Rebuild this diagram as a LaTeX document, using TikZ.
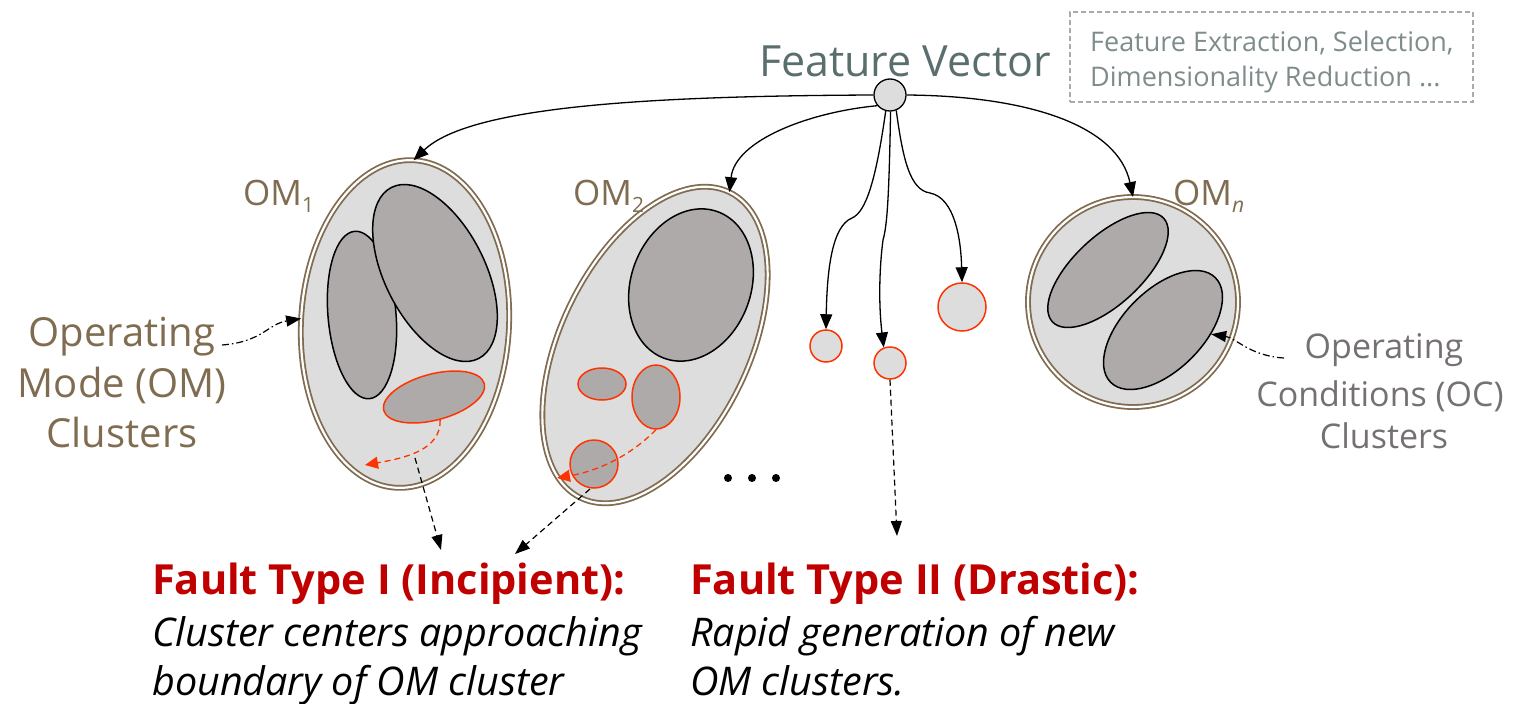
\documentclass[tikz,border=0pt]{standalone}
\usepackage{fontspec}
\setmainfont{Open Sans}
\usetikzlibrary{shapes.geometric,arrows.meta}

\definecolor{omb}{RGB}{128,108,80}
\definecolor{fvcol}{RGB}{91,110,110}
\definecolor{boxtxt}{RGB}{127,140,140}
\definecolor{boxline}{RGB}{170,170,170}
\definecolor{octxt}{RGB}{118,113,113}
\definecolor{lightg}{RGB}{221,221,221}
\definecolor{darkg}{RGB}{174,170,170}
\definecolor{redo}{RGB}{255,51,0}
\definecolor{faultred}{RGB}{192,0,0}

\newcommand{\fsz}[1]{\fontsize{#1}{#1}\selectfont}

\tikzset{
  ommode/.style={ellipse, draw=omb, double=white, double distance=2.2pt,
    line width=1.8pt, fill=lightg, inner sep=0pt, outer sep=0pt},
  occl/.style={ellipse, draw=black, line width=1.5pt, fill=darkg, inner sep=0pt},
  faultcl/.style={ellipse, draw=redo, line width=1.5pt, fill=darkg, inner sep=0pt},
  newcl/.style={circle, draw=redo, line width=1.5pt, fill=lightg, inner sep=0pt},
  link/.style={line width=1.3pt, -{Triangle[length=15pt,width=12pt]}},
  drift/.style={redo, line width=1.3pt, dash pattern=on 6pt off 4pt,
    -{Triangle[length=13pt,width=12pt]}},
  tofault/.style={line width=1.2pt, dash pattern=on 6pt off 4pt,
    -{Triangle[length=15pt,width=11pt]}},
  pointer/.style={line width=1.2pt, dash pattern=on 7pt off 3pt on 1.5pt off 3pt,
    -{Triangle[length=15pt,width=11pt]}},
  txt/.style={inner sep=0pt, anchor=base},
}

\begin{document}
\begin{tikzpicture}[x=1pt,y=-1pt]
\useasboundingbox (0,0) rectangle (1529,704);

% feature vector and its preprocessing note
\node[txt, text=fvcol, font=\fsz{43}] (fv) at (905,76) {Feature Vector};
\node[draw=boxline, line width=1.2pt, dash pattern=on 5pt off 3pt,
      minimum width=403pt, minimum height=90pt, inner sep=0pt] (prep) at (1271.5,57) {};
\node[txt, anchor=base west, text=boxtxt, font=\fsz{27}] (prep1) at (1090,51) {Feature Extraction, Selection,};
\node[txt, anchor=base west, text=boxtxt, font=\fsz{27}] (prep2) at (1090,86) {Dimensionality Reduction ...};
\node[circle, draw=black, line width=1.3pt, fill=lightg, minimum size=32pt, inner sep=0pt] (src) at (890,95) {};

% operating mode 1
\node[ommode, minimum width=208pt, minimum height=328pt, rotate=-3] (om1) at (405,324) {};
\node[occl, minimum width=68pt, minimum height=168pt, rotate=5] (om1a) at (362,315) {};
\node[occl, minimum width=100pt, minimum height=192pt, rotate=27] (om1b) at (435,273) {};
\node[faultcl, minimum width=104pt, minimum height=46pt, rotate=15] (om1f) at (434,397) {};
\node[txt, anchor=base west, text=omb, font=\fsz{35}] (om1lab) at (243,205) {OM\raisebox{-0.22em}{\fsz{21}1}};

% operating mode 2
\node[ommode, minimum width=188pt, minimum height=340pt, rotate=-26] (om2) at (655,345) {};
\node[occl, minimum width=120pt, minimum height=156pt, rotate=-20] (om2a) at (691,285) {};
\node[faultcl, minimum width=48pt, minimum height=32pt] (om2f1) at (602,384) {};
\node[faultcl, minimum width=48pt, minimum height=64pt] (om2f2) at (656,397) {};
\node[faultcl, minimum width=48pt, minimum height=48pt] (om2f3) at (594,464) {};
\node[txt, anchor=base west, text=omb, font=\fsz{35}] (om2lab) at (573,205) {OM\raisebox{-0.22em}{\fsz{21}2}};

% newly generated clusters
\node[newcl, minimum size=32pt] (c1) at (826,346) {};
\node[newcl, minimum size=32pt] (c2) at (890,363) {};
\node[newcl, minimum size=48pt] (c3) at (962,307) {};

% operating mode n
\node[ommode, minimum size=210pt, circle] (omn) at (1133,302) {};
\node[occl, minimum width=152pt, minimum height=68pt, rotate=43] (omna) at (1108,270) {};
\node[occl, minimum width=148pt, minimum height=80pt, rotate=45] (omnb) at (1163,330) {};
\node[txt, anchor=base west, text=omb, font=\fsz{35}] (omnlab) at (1173,205) {OM\raisebox{-0.22em}{\fsz{21}\itshape n}};

% ellipsis
\foreach \i/\x in {1/728,2/752,3/776}
  \node[circle, fill=black, minimum size=8pt, inner sep=0pt] (dot\i) at (\x,478) {};

% side labels
\node[txt, text=omb, font=\fsz{40}] (omt1) at (122,346) {Operating};
\node[txt, text=omb, font=\fsz{40}] (omt2) at (122,397) {Mode (OM)};
\node[txt, text=omb, font=\fsz{40}] (omt3) at (122,447) {Clusters};
\node[txt, text=octxt, font=\fsz{34}] (oct1) at (1384,358) {Operating};
\node[txt, text=octxt, font=\fsz{34}] (oct2) at (1380,406) {Conditions (OC)};
\node[txt, text=octxt, font=\fsz{34}] (oct3) at (1384,448) {Clusters};

% fault descriptions
\node[txt, anchor=base west, text=faultred, font=\fsz{41.5}\bfseries] (f1h) at (152,594) {Fault Type I (Incipient):};
\node[txt, anchor=base west, font=\fsz{39.5}\itshape] (f1a) at (152,646) {Cluster centers approaching};
\node[txt, anchor=base west, font=\fsz{39.5}\itshape] (f1b) at (152,695) {boundary of OM cluster};
\node[txt, anchor=base west, text=faultred, font=\fsz{41.5}\bfseries] (f2h) at (690,594) {Fault Type II (Drastic):};
\node[txt, anchor=base west, font=\fsz{39.5}\itshape] (f2a) at (690,646) {Rapid generation of new};
\node[txt, anchor=base west, font=\fsz{39.5}\itshape] (f2b) at (690,695) {OM clusters.};

% free ends of connectors
\coordinate (omtail) at (222,345);
\coordinate (octail) at (1284,358);
\coordinate (kink1) at (852,218);
\coordinate (kink2) at (883,240);
\coordinate (kink3) at (930,193);
\coordinate (drift1) at (365,465);
\coordinate (drift2) at (557,478);
\coordinate (f1from) at (415,458);
\coordinate (f2from) at (590,489);
\coordinate (f1to) at (441,550);
\coordinate (f1to2) at (515,554);
\coordinate (f2to) at (897,536);

% feature vector to clusters
\draw[link] (src.west) .. controls (650,96) and (470,106) .. (om1.north);
\draw[link] (src.-140) .. controls (810,112) and (735,140) .. (om2.north);
\draw[link] (src.-105) .. controls (876,180) and (866,212) .. (kink1)
            .. controls (832,226) and (827,270) .. (c1.north);
\draw[link] (src.-88) .. controls (889,200) and (887,226) .. (kink2)
            .. controls (880,262) and (878,300) .. (c2.112);
\draw[link] (src.-68) .. controls (903,160) and (910,190) .. (kink3)
            .. controls (955,198) and (961,240) .. (c3.north);
\draw[link] (src.east) .. controls (1030,96) and (1118,126) .. (omn.north);

% drift of fault clusters towards the boundary
\draw[drift] (om1f.south) .. controls (441,450) and (405,458) .. (drift1);
\draw[drift] (om2f2.south) .. controls (626,460) and (592,472) .. (drift2);

% pointers from side labels
\draw[pointer] (omtail) .. controls (262,342) and (268,324) .. (om1.west);
\draw[pointer] (octail) .. controls (1250,356) and (1236,338) .. (omnb.-50);

% links to fault descriptions
\draw[tofault] (f1from) -- (f1to);
\draw[tofault] (f2from) -- (f1to2);
\draw[tofault] (c2.south) -- (f2to);
\end{tikzpicture}
\end{document}
